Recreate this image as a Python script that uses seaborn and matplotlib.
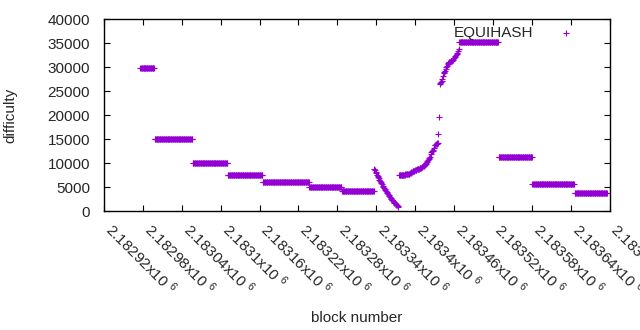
import matplotlib
matplotlib.use("Agg")
import matplotlib.pyplot as plt
import numpy as np
import pandas as pd
import seaborn as sns

# flat stretches: first block, last block, difficulty
flat_start = [2182976, 2182998, 2183057, 2183111, 2183165, 2183237, 2183287,
              2183375, 2183385, 2183468, 2183529, 2183581, 2183646]
flat_end = [2182997, 2183056, 2183110, 2183164, 2183236, 2183286, 2183336,
            2183384, 2183391, 2183528, 2183580, 2183645, 2183696]
flat_diff = [29800, 15000, 10000, 7500, 6000, 4950, 4200,
             7600, 7750, 35300, 11200, 5600, 3700]

# block by block: the slide after the 4200 stretch
drop_start = 2183337
drop_diff = [8800, 8500, 8200, 7900, 7600, 7300, 7050, 6800, 6550, 6300,
             6050, 5800, 5550, 5300, 5050, 4800, 4550, 4300, 4100, 3900,
             3700, 3500, 3300, 3100, 2900, 2700, 2500, 2350, 2200, 2050,
             1900, 1750, 1600, 1450, 1300, 1150, 1000, 850]

# block by block: the climb up to the 35300 stretch
rise_start = 2183392
rise_diff = [7850, 7950, 8050, 8150, 8250, 8350, 8400, 8450, 8550, 8600,
             8650, 8700, 8750, 8800, 8850, 8900, 8950, 9050, 9150, 9250,
             9350, 9450, 9550, 9650, 9850, 10050, 10250, 10450, 10650, 10850,
             11050, 11300, 11800, 12300, 12500, 12600, 12700, 13200, 13700, 13800,
             13900, 14000, 14100, 14200, 16000, 19700,
             26600, 26800, 27000, 27200, 27600, 28200, 28700, 29000, 29300, 29700,
             30000, 30200, 30600, 30900, 31000, 31100, 31100, 31200, 31300, 31400,
             31500, 31700, 32000, 32200, 32300, 32500, 32700, 33000, 33400, 33800]

x_ticks = [2182920, 2182980, 2183040, 2183100, 2183160, 2183220, 2183280,
           2183340, 2183400, 2183460, 2183520, 2183580, 2183640, 2183700]
x_tick_text = ["2.18292", "2.18298", "2.18304", "2.1831", "2.18316", "2.18322",
               "2.18328", "2.18334", "2.1834", "2.18346", "2.18352", "2.18358",
               "2.18364", "2.1837"]
y_ticks = [0, 5000, 10000, 15000, 20000, 25000, 30000, 35000, 40000]

# expand everything to one row per block
blocks, diffs = [], []
for s, e, d in zip(flat_start, flat_end, flat_diff):
    b = np.arange(s, e + 1)
    blocks.append(b)
    diffs.append(np.full(len(b), d))
blocks.append(np.arange(drop_start, drop_start + len(drop_diff)))
diffs.append(np.array(drop_diff))
blocks.append(np.arange(rise_start, rise_start + len(rise_diff)))
diffs.append(np.array(rise_diff))
df = pd.DataFrame({"block": np.concatenate(blocks),
                   "difficulty": np.concatenate(diffs)}).sort_values("block")

sns.set_style("ticks")
plt.rcParams["font.family"] = ["Liberation Sans", "DejaVu Sans"]
plt.rcParams["mathtext.fontset"] = "custom"
plt.rcParams["mathtext.rm"] = "Liberation Sans"
plt.rcParams["mathtext.it"] = "Liberation Sans"

fig = plt.figure(figsize=(6.4, 3.3), dpi=100)
ax = fig.add_axes([0.1625, 0.3606, 0.79, 0.5809])

sns.scatterplot(data=df, x="block", y="difficulty", marker="+", s=24,
                color="#9400d3", linewidth=0.8, label="EQUIHASH", ax=ax)

ax.set_xlim(2182920, 2183700)
ax.set_ylim(0, 40000)
ax.set_xticks(x_ticks)
ax.set_xticklabels([t + r"x10 $^{6}$" for t in x_tick_text], rotation=-45,
                   ha="left", va="baseline", rotation_mode="anchor", fontsize=11)
ax.set_yticks(y_ticks)
ax.set_yticklabels([str(v) for v in y_ticks], fontsize=11)
ax.tick_params(direction="in", length=4, width=0.8, top=True, right=True,
               color="black")
ax.tick_params(axis="y", pad=10)
ax.tick_params(axis="x", pad=14)
for sp in ax.spines.values():
    sp.set_visible(True)
    sp.set_color("black")
    sp.set_linewidth(1)

ax.set_xlabel("block number", fontsize=11)
ax.set_ylabel("difficulty", fontsize=11)
ax.xaxis.set_label_coords(0.5, -0.52)
ax.yaxis.set_label_coords(-0.172, 0.5)

ax.legend(loc="upper right", bbox_to_anchor=(0.963, 1.015), frameon=False,
          markerfirst=False, fontsize=11, handlelength=2.0, handletextpad=1.2,
          borderaxespad=0.2, markerscale=1.0)

fig.savefig("out.png", dpi=100)
